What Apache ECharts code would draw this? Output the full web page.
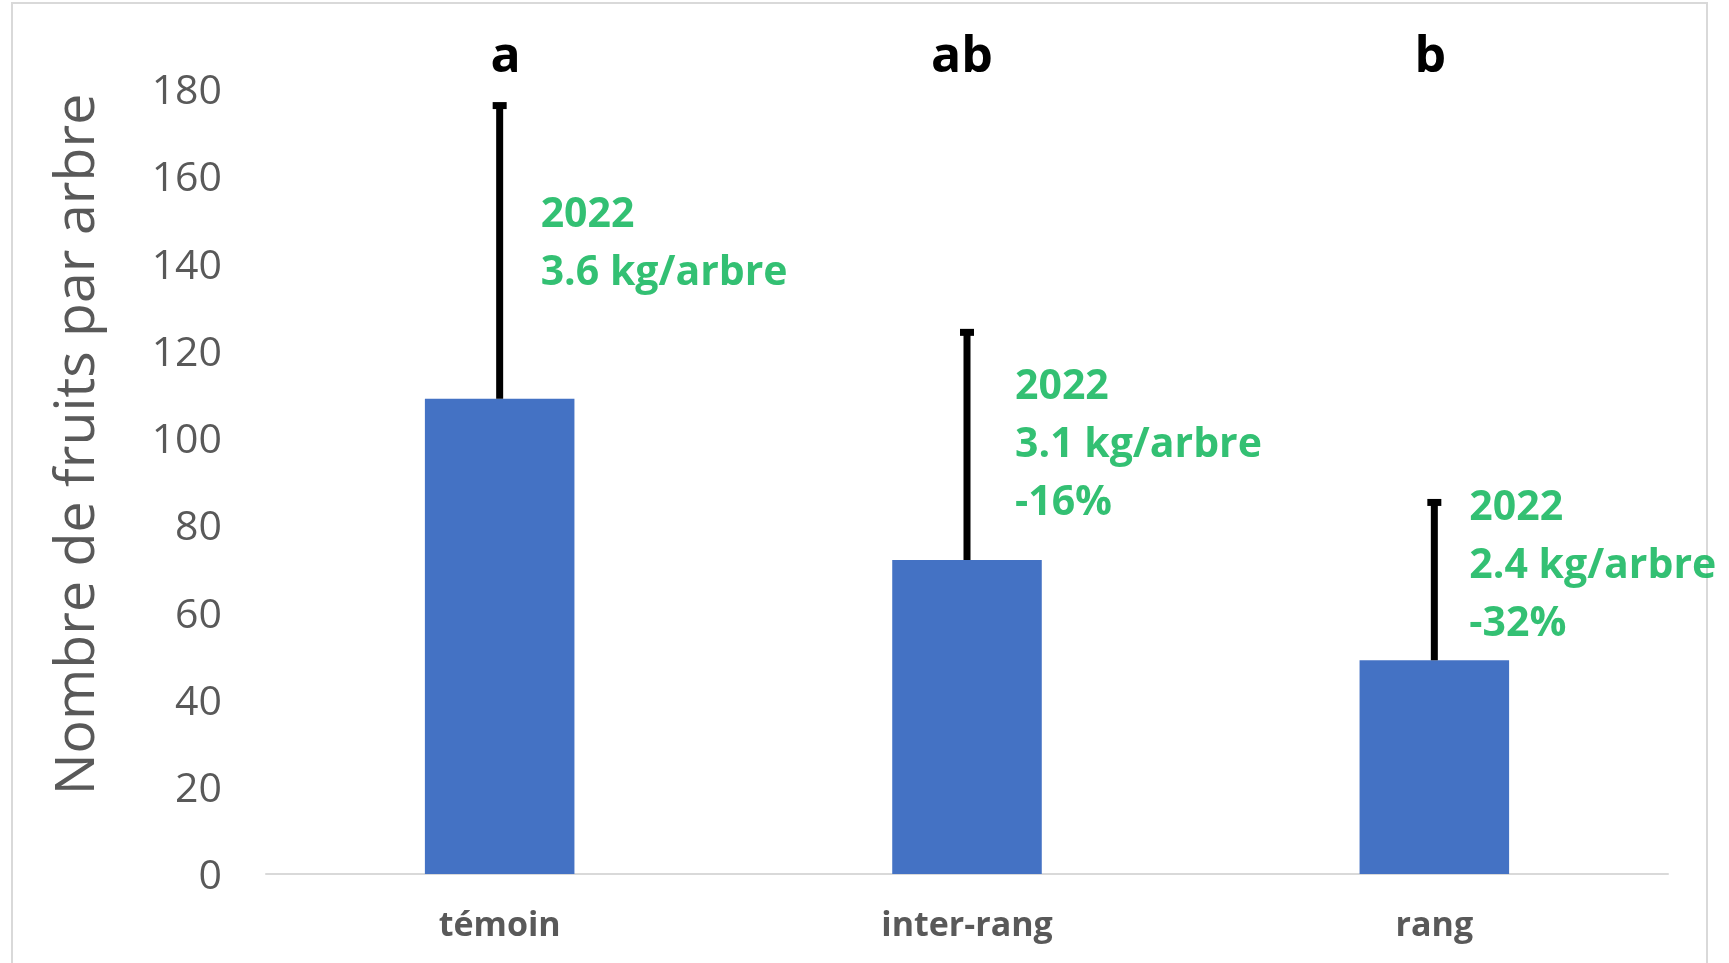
<!DOCTYPE html>
<html><head><meta charset="utf-8">
<script src="https://cdn.jsdelivr.net/npm/echarts@6/dist/echarts.min.js"></script>
<style>html,body{margin:0;padding:0;background:#fff}#c{width:1729px;height:963px}</style>
</head><body><div id="c"></div>
<script>
// ---- data ----
const categories = ['témoin', 'inter-rang', 'rang'];
const meanValues = [109, 72, 49];
const upperValues = [177, 125, 86];
const groupLetters = ['a', 'ab', 'b'];
const annotationLines = [
  ['2022', '3.6 kg/arbre'],
  ['2022', '3.1 kg/arbre', '-16%'],
  ['2022', '2.4 kg/arbre', '-32%']
];
const annotationAnchor = [144.3, 98.2, 70.5];
const yMin = 0, yMax = 180, yInterval = 20;
const yAxisTitle = 'Nombre de fruits par arbre';

// ---- styling ----
const FONT = '"Open Sans", "Noto Sans", sans-serif';
const labelDx = [41, 48, 35];
const letterPadding = [[0, 0, 0, 12], [0, 10, 0, 0], [0, 8, 0, 0]];

const chart = echarts.init(document.getElementById('c'), null, {renderer: 'canvas'});
const option = {
  backgroundColor: '#fff',
  animation: false,
  graphic: [{
    type: 'rect', silent: true, z: -10,
    shape: {x: 12, y: 3, width: 1695, height: 980},
    style: {fill: 'none', stroke: '#D9D9D9', lineWidth: 2}
  }],
  grid: {left: 266, right: 61, top: 89, bottom: 89, containLabel: false},
  xAxis: [{
    type: 'category', data: categories, position: 'bottom',
    axisLine: {show: true, lineStyle: {color: '#D9D9D9', width: 2}},
    axisTick: {show: false},
    axisLabel: {color: '#595959', fontFamily: FONT, fontWeight: 'bold', fontSize: 34, margin: 35}
  }, {
    type: 'category', position: 'top',
    data: groupLetters.map((l, i) => ({value: l, textStyle: {padding: letterPadding[i]}})),
    axisLine: {show: false}, axisTick: {show: false},
    axisLabel: {color: '#000', fontFamily: FONT, fontWeight: 'bold', fontSize: 50, margin: 6}
  }],
  yAxis: {
    type: 'value', min: yMin, max: yMax, interval: yInterval,
    name: yAxisTitle, nameLocation: 'middle', nameRotate: 90, nameGap: 160,
    nameTextStyle: {color: '#595959', fontFamily: FONT, fontSize: 55.5, padding: [0, 0, 0, 74]},
    axisLine: {show: false}, axisTick: {show: false}, splitLine: {show: false},
    axisLabel: {
      margin: 44,
      formatter: '{v|{value}}',
      rich: {v: {color: '#595959', fontFamily: FONT, fontSize: 41, padding: [7, 0, 0, 0]}}
    }
  },
  series: [{
    type: 'bar', data: meanValues, barWidth: '32%', xAxisIndex: 0,
    itemStyle: {color: '#4472C4'}, z: 2
  }, {
    type: 'custom', xAxisIndex: 0, z: 3,
    data: categories.map((c, i) => [i, meanValues[i], upperValues[i]]),
    renderItem: function (params, api) {
      const x = api.value(0);
      const lo = api.coord([x, api.value(1)]);
      const hi = api.coord([x, api.value(2)]);
      return {type: 'group', children: [
        {type: 'line', shape: {x1: lo[0], y1: lo[1], x2: hi[0], y2: hi[1] + 3}, style: {stroke: '#000', lineWidth: 7}},
        {type: 'line', shape: {x1: hi[0] - 7, y1: hi[1] + 3.5, x2: hi[0] + 7, y2: hi[1] + 3.5}, style: {stroke: '#000', lineWidth: 7}}
      ]};
    }
  }, {
    type: 'scatter', xAxisIndex: 0, symbolSize: 0, z: 4,
    data: categories.map((c, i) => ({
      value: [i, annotationAnchor[i]],
      label: {offset: [labelDx[i], 0]}
    })),
    label: {
      show: true, position: 'right', distance: 0, align: 'left', verticalAlign: 'middle',
      color: '#00B050', fontFamily: FONT, fontWeight: 'bold', fontSize: 41, lineHeight: 58,
      formatter: p => annotationLines[p.dataIndex].join('\n')
    }
  }]
};
chart.setOption(option);
</script></body></html>
